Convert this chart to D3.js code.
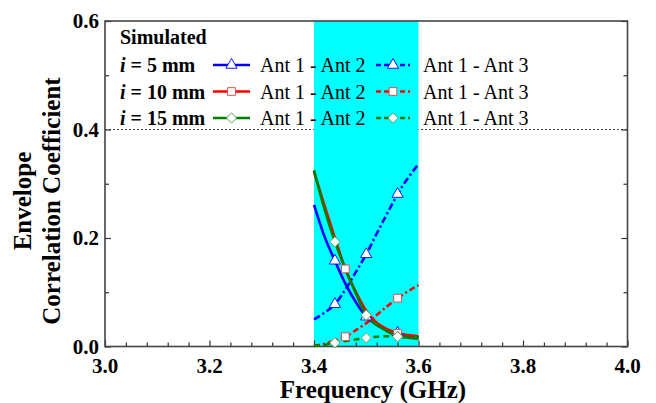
<!DOCTYPE html>
<html>
<head>
<meta charset="utf-8">
<script src="https://cdn.jsdelivr.net/npm/d3@7/dist/d3.min.js"></script>
</head>
<body style="margin:0">
<svg id="chart" width="656" height="403"></svg>
<script>
// frequency samples (GHz) and ECC
const freqs = [3.40, 3.42, 3.44, 3.46, 3.48, 3.50, 3.52, 3.54, 3.56, 3.58, 3.60];
const ecc_i5_a12  = [0.261, 0.203, 0.158, 0.116, 0.082, 0.055, 0.040, 0.031, 0.025, 0.020, 0.017];
const ecc_i5_a13  = [0.050, 0.062, 0.078, 0.105, 0.137, 0.170, 0.208, 0.245, 0.281, 0.311, 0.336];
const ecc_i10_a12 = [0.322, 0.260, 0.200, 0.143, 0.101, 0.066, 0.044, 0.032, 0.024, 0.021, 0.019];
const ecc_i10_a13 = [0.001, 0.005, 0.011, 0.018, 0.030, 0.043, 0.058, 0.074, 0.089, 0.102, 0.113];
const ecc_i15_a12 = [0.325, 0.253, 0.193, 0.143, 0.098, 0.058, 0.040, 0.028, 0.019, 0.016, 0.014];
const ecc_i15_a13 = [0.001, 0.003, 0.007, 0.010, 0.013, 0.016, 0.018, 0.019, 0.018, 0.018, 0.017];

const markers_i5  = [3.44, 3.50, 3.56];
const markers_i10 = [3.46, 3.56];
const markers_i15 = [3.44, 3.50, 3.56];

const thicknesses = ['5', '10', '15'];
const pairLabels = ['Ant 1 - Ant 2', 'Ant 1 - Ant 3'];
const band = [3.4, 3.6];
const refLevel = 0.4;
const xTicks = [3.0, 3.2, 3.4, 3.6, 3.8, 4.0];
const yTicks = [0.0, 0.2, 0.4, 0.6];

const width = 656, height = 403;
const margin = { left: 105, top: 21, right: 28.5, bottom: 56.5 };
const FONT = '"Liberation Serif", monospace';

let x = d3.scaleLinear().domain([3, 4]).range([margin.left, width - margin.right]);
let y = d3.scaleLinear().domain([0, 0.6]).range([height - margin.bottom, margin.top]);

const svg = d3.select('#chart');

// every text goes through here so the serif face sticks
function addText(g, px, py, size, bold, str) {
  return g.append('text')
    .style('font-family', FONT)
    .attr('x', px).attr('y', py)
    .attr('font-size', size)
    .attr('font-weight', bold ? 'bold' : 'normal')
    .text(str);
}

// dotted reference line at 0.4
svg.append('line')
  .attr('x1', x(3)).attr('x2', x(4))
  .attr('y1', y(refLevel)).attr('y2', y(refLevel))
  .attr('stroke', '#444').attr('stroke-width', 1)
  .attr('stroke-dasharray', '2,2');

// cyan band (drawn over the dotted line)
svg.append('rect')
  .attr('x', x(band[0])).attr('y', y(0.6))
  .attr('width', x(band[1]) - x(band[0]))
  .attr('height', y(0) - y(0.6))
  .attr('fill', '#00ffff');

// axes: ticks from d3, labels written by hand from the tick arrays
let minorX = d3.range(3, 4.0001, 0.04).filter(v => Math.abs(v * 5 - Math.round(v * 5)) > 1e-6);
let minorY = [0.1, 0.3, 0.5];

svg.append('g')
  .attr('transform', `translate(0,${y(0)})`)
  .call(d3.axisBottom(x).tickValues(xTicks).tickSizeInner(-6).tickSizeOuter(0).tickFormat(''));
svg.append('g')
  .attr('transform', `translate(0,${y(0)})`)
  .call(d3.axisBottom(x).tickValues(minorX).tickSizeInner(-4).tickSizeOuter(0).tickFormat(''));
svg.append('g')
  .attr('transform', `translate(${x(3)},0)`)
  .call(d3.axisLeft(y).tickValues(yTicks).tickSizeInner(-6).tickSizeOuter(0).tickFormat(''));
svg.append('g')
  .attr('transform', `translate(${x(3)},0)`)
  .call(d3.axisLeft(y).tickValues(minorY).tickSizeInner(-4).tickSizeOuter(0).tickFormat(''));
svg.append('g')
  .attr('transform', `translate(${x(4)},0)`)
  .call(d3.axisRight(y).tickValues(yTicks).tickSizeInner(-6).tickSizeOuter(0).tickFormat(''));
svg.append('g')
  .attr('transform', `translate(${x(4)},0)`)
  .call(d3.axisRight(y).tickValues(minorY).tickSizeInner(-4).tickSizeOuter(0).tickFormat(''));

svg.selectAll('.domain').remove();
svg.selectAll('.tick text').remove();
svg.selectAll('.tick line').attr('stroke', '#333').attr('stroke-width', 1.2);

const fmt = d3.format('.1f');
let labels = svg.append('g');
xTicks.forEach(v => {
  addText(labels, x(v), y(0) + 26.5, 21, true, fmt(v)).attr('text-anchor', 'middle');
});
yTicks.forEach(v => {
  addText(labels, x(3) - 6, y(v) + 7, 21, true, fmt(v)).attr('text-anchor', 'end');
});

// frame
svg.append('rect')
  .attr('x', x(3)).attr('y', y(0.6))
  .attr('width', x(4) - x(3)).attr('height', y(0) - y(0.6))
  .attr('fill', 'none').attr('stroke', '#444').attr('stroke-width', 1.6);

// axis titles
addText(svg, 373, 398, 25, true, 'Frequency (GHz)').attr('text-anchor', 'middle');

let yTitle = svg.append('g').attr('transform', 'translate(0,201) rotate(-90)');
addText(yTitle, 0, 31, 25, true, 'Envelope').attr('text-anchor', 'middle');
addText(yTitle, 0, 60, 25, true, 'Correlation Coefficient').attr('text-anchor', 'middle');

// series
const series = [
  { vals: ecc_i5_a12,  color: '#0000ff', dash: null,      marks: markers_i5,  shape: 'tri', row: 0, col: 0 },
  { vals: ecc_i5_a13,  color: '#0000ff', dash: '7,3,2,3', marks: markers_i5,  shape: 'tri', row: 0, col: 1 },
  { vals: ecc_i10_a12, color: '#ff0000', dash: null,      marks: markers_i10, shape: 'sq',  row: 1, col: 0 },
  { vals: ecc_i10_a13, color: '#ff0000', dash: '6,3,2,3', marks: markers_i10, shape: 'sq',  row: 1, col: 1 },
  { vals: ecc_i15_a12, color: '#008000', dash: null,      marks: markers_i15, shape: 'dia', row: 2, col: 0 },
  { vals: ecc_i15_a13, color: '#008000', dash: '6,4',     marks: markers_i15, shape: 'dia', row: 2, col: 1 },
];

let line = d3.line()
  .x(d => x(d[0]))
  .y(d => y(d[1]))
  .curve(d3.curveMonotoneX);

const symbolFor = s => s === 'tri'
  ? d3.symbol(d3.symbolTriangle, 55)()
  : d3.symbol(d3.symbolSquare, s === 'sq' ? 60 : 52)();

const markerStroke = s => s === 'tri' ? '#0000ff' : s === 'sq' ? '#e04040' : '#5aa05a';

function drawMarker(g, cx, cy, shape) {
  g.append('path')
    .attr('d', symbolFor(shape))
    .attr('transform', `translate(${cx},${cy})` + (shape === 'dia' ? ' rotate(45)' : ''))
    .attr('fill', '#fff')
    .attr('stroke', markerStroke(shape))
    .attr('stroke-width', 0.9);
}

let plot = svg.append('g');
series.forEach(s => {
  let pts = freqs.map((f, i) => [f, s.vals[i]]);
  plot.append('path')
    .attr('d', line(pts))
    .attr('fill', 'none')
    .attr('stroke', s.color)
    .attr('stroke-width', 2.6)
    .attr('stroke-dasharray', s.dash);
});
series.forEach(s => {
  s.marks.forEach(f => {
    let i = freqs.findIndex(v => Math.abs(v - f) < 1e-6);
    drawMarker(plot, x(f), y(s.vals[i]), s.shape);
  });
});

// legend
let legend = svg.append('g');
addText(legend, 120, 44, 20, true, 'Simulated');

const rowBase = [72, 98.5, 125];
const sampleX = [[213, 250], [376, 410]];
const labelX = [260, 423];

thicknesses.forEach((t, r) => {
  let lab = addText(legend, 120, rowBase[r], 20, true, null);
  lab.append('tspan').attr('font-style', 'italic').text('i');
  lab.append('tspan').text(` = ${t} mm`);
});

series.forEach(s => {
  let yy = rowBase[s.row] - 7;
  let [x0, x1] = sampleX[s.col];
  legend.append('line')
    .attr('x1', x0).attr('x2', x1)
    .attr('y1', yy).attr('y2', yy)
    .attr('stroke', s.color)
    .attr('stroke-width', 2.6)
    .attr('stroke-dasharray', s.dash ? '5,3' : null);
  drawMarker(legend, (x0 + x1) / 2, yy, s.shape);
  addText(legend, labelX[s.col], rowBase[s.row], 20, false, pairLabels[s.col]);
});
</script>
</body>
</html>
